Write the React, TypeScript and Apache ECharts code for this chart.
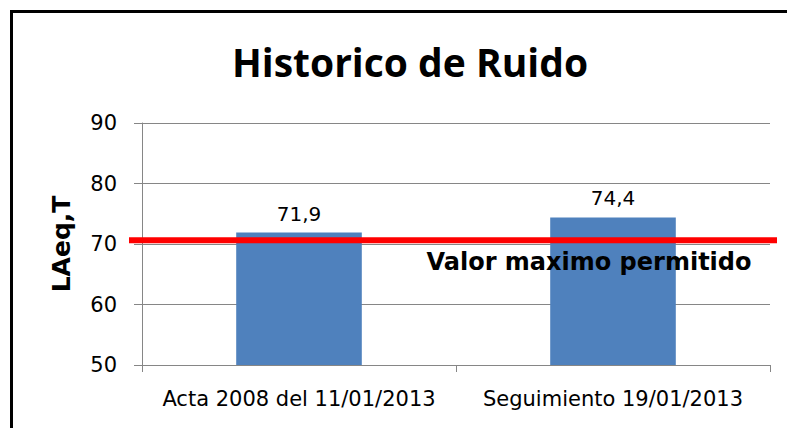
import React, { useEffect, useRef } from "react";
import * as echarts from "echarts";

const categories = ["Acta 2008 del 11/01/2013", "Seguimiento 19/01/2013"];
const values = [71.9, 74.4];
const limitValue = 70.6;
const limitLabel = "Valor maximo permitido";
const yTicks = [50, 60, 70, 80, 90];
const titleText = "Historico de Ruido";
const yAxisName = "LAeq,T";

export default function App() {
  const ref = useRef<HTMLDivElement>(null);
  useEffect(() => {
    document.body.style.margin = "0";
    const chart = echarts.init(ref.current!, null, { renderer: "svg" });
    const option: any = {
      animation: false,
      backgroundColor: "#ffffff",
      title: {
        text: titleText,
        left: 405,
        textAlign: "center",
        top: 37,
        textStyle: {
          fontFamily: "Open Sans",
          fontWeight: "bold",
          fontSize: 39,
          color: "#000",
        },
      },
      grid: { left: 142, right: 17, top: 123, bottom: 63 },
      xAxis: {
        type: "category",
        data: categories,
        axisLine: { lineStyle: { color: "#868686", width: 1 } },
        axisTick: { show: true, length: 7, lineStyle: { color: "#868686" } },
        axisLabel: {
          interval: 0,
          hideOverlap: false,
          fontFamily: "DejaVu Sans",
          fontSize: 21,
          color: "#000",
          margin: 23,
        },
      },
      yAxis: {
        type: "value",
        min: yTicks[0],
        max: yTicks[yTicks.length - 1],
        interval: 10,
        name: yAxisName,
        nameLocation: "middle",
        nameGap: 68,
        nameTextStyle: {
          fontFamily: "DejaVu Sans",
          fontWeight: "bold",
          fontSize: 25,
          color: "#000",
        },
        axisLine: { show: true, lineStyle: { color: "#868686", width: 1 } },
        axisTick: { show: true, length: 8, lineStyle: { color: "#868686" } },
        splitLine: { lineStyle: { color: "#868686", width: 1 } },
        axisLabel: {
          fontFamily: "DejaVu Sans",
          fontSize: 21,
          color: "#000",
          margin: 25,
        },
      },
      series: [
        {
          type: "bar",
          data: values,
          barWidth: "40%",
          itemStyle: { color: "#4F81BD" },
          label: {
            show: true,
            position: "top",
            distance: 9,
            fontFamily: "DejaVu Sans",
            fontSize: 20,
            color: "#000",
            formatter: (p: any) => String(p.value).replace(".", ","),
          },
        },
      ],
    };
    chart.setOption(option);
    const ly = chart.convertToPixel({ yAxisIndex: 0 }, limitValue) as number;
    chart.setOption({
      graphic: [
        {
          type: "rect",
          shape: { x: 11.5, y: 11.5, width: 900, height: 600 },
          style: { fill: "none", stroke: "#000", lineWidth: 3 },
          z: 100,
        },
        {
          type: "line",
          shape: { x1: 129, y1: ly, x2: 777, y2: ly },
          style: { stroke: "#FF0000", lineWidth: 6 },
          z: 100,
        },
        {
          type: "text",
          x: 589,
          y: ly + 22,
          style: {
            text: limitLabel,
            fontFamily: "DejaVu Sans",
            fontWeight: "bold",
            fontSize: 24,
            fill: "#000",
            textAlign: "center",
            textVerticalAlign: "middle",
          },
          z: 100,
        },
      ],
    });
    return () => chart.dispose();
  }, []);
  return <div ref={ref} style={{ width: 787, height: 428 }} />;
}
